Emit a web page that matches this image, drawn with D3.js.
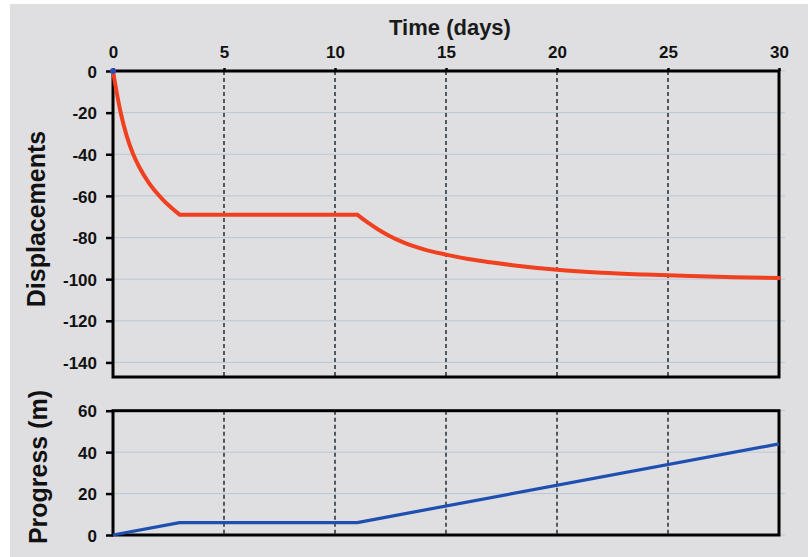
<!DOCTYPE html>
<html><head><meta charset="utf-8">
<script src="https://cdn.jsdelivr.net/npm/d3@7"></script>
<style>body{margin:0;background:#fff}svg{display:block}</style>
</head><body>
<svg id="c" width="808" height="557"></svg>
<script>
const xTicks = [0,5,10,15,20,25,30];
const dispTicks = [0,-20,-40,-60,-80,-100,-120,-140];
const progTicks = [0,20,40,60];
const dispDays = [0,0.17,0.35,0.62,0.91,1.2,1.6,2.2,3,11,11.5,12,12.5,13,13.5,14,15,16,17,18,19,20,22,24,26,28,30];
const dispVals = [0,-10.5,-20.2,-31.3,-40,-46.5,-53.5,-61.3,-69,-69,-73,-76.5,-79.5,-82,-84,-85.7,-88.2,-90.3,-91.9,-93.3,-94.5,-95.5,-96.9,-97.8,-98.5,-99.1,-99.5];
const breakDays = [3,11];
const progDays = [0,3,11,30];
const progVals = [0,6,6,44];

const svg = d3.select("#c");
const font = "'Liberation Sans', Arial, sans-serif";
svg.append("rect").attr("x",10).attr("y",4).attr("width",798).attr("height",553).attr("fill","#dfdfe1");

const x = d3.scaleLinear().domain([0,30]).range([113,779]);
const yD = d3.scaleLinear().domain([-147,0]).range([377,71]);
const yP = d3.scaleLinear().domain([0,60]).range([535,410.7]);

function panel(y, ticks){
  const [y0,y1] = y.range();
  svg.append("g").selectAll("line").data(ticks).join("line")
    .attr("x1",113).attr("x2",785).attr("y1",d=>y(d)).attr("y2",d=>y(d))
    .attr("stroke","#b9c7d6").attr("stroke-width",1);
  svg.append("g").selectAll("line").data(xTicks.slice(1,-1)).join("line")
    .attr("x1",d=>x(d)).attr("x2",d=>x(d)).attr("y1",y1).attr("y2",y0)
    .attr("stroke","#2d3640").attr("stroke-width",1.6).attr("stroke-dasharray","4,3");
  const ax = svg.append("g").attr("transform","translate(113,0)")
    .call(d3.axisLeft(y).tickValues(ticks).tickSize(7).tickPadding(9).tickFormat(d=>String(d)));
  ax.select(".domain").remove();
  ax.selectAll(".tick line").attr("stroke","#000").attr("stroke-width",2.5);
  ax.selectAll(".tick text").attr("font-family",font).attr("font-weight","bold")
    .attr("font-size",17).attr("fill","#111").attr("dy","0.36em");
  svg.append("rect").attr("x",113).attr("y",y1).attr("width",779-113).attr("height",y0-y1)
    .attr("fill","none").attr("stroke","#000").attr("stroke-width",3);
}
panel(yD, dispTicks);
panel(yP, progTicks);

const tx = svg.append("g").attr("transform","translate(0,71)")
  .call(d3.axisTop(x).tickValues(xTicks).tickSize(3).tickPadding(10).tickFormat(d=>String(d)));
tx.select(".domain").remove();
tx.selectAll(".tick line").attr("stroke","#000").attr("stroke-width",2.5);
tx.selectAll(".tick text").attr("font-family",font).attr("font-weight","bold")
  .attr("font-size",17).attr("fill","#111").attr("dy",0);

// displacement curve, smooth within segments separated by the break days
const pts = dispDays.map((d,i)=>[d,dispVals[i]]);
const segs = [
  pts.filter(p=>p[0]<=breakDays[0]),
  pts.filter(p=>p[0]>=breakDays[0] && p[0]<=breakDays[1]),
  pts.filter(p=>p[0]>=breakDays[1])
];
const lineD = d3.line().x(d=>x(d[0])).y(d=>yD(d[1])).curve(d3.curveMonotoneX);
svg.append("path").attr("d",segs.map(s=>lineD(s)).join(""))
  .attr("fill","none").attr("stroke","#f0401f").attr("stroke-width",4)
  .attr("stroke-linejoin","round").attr("stroke-linecap","round");
svg.append("circle").attr("cx",x(0)).attr("cy",yD(0)).attr("r",3).attr("fill","#2a50b8");

svg.append("path").datum(progDays.map((d,i)=>[d,progVals[i]]))
  .attr("d",d3.line().x(d=>x(d[0])).y(d=>yP(d[1])))
  .attr("fill","none").attr("stroke","#1f4fb0").attr("stroke-width",3.2)
  .attr("stroke-linejoin","round");

svg.append("text").attr("x",450).attr("y",35).attr("text-anchor","middle")
  .attr("font-family",font).attr("font-weight","bold").attr("font-size",22).attr("fill","#1a1a1a")
  .text("Time (days)");
svg.append("text").attr("transform","translate(45,219) rotate(-90)").attr("text-anchor","middle")
  .attr("font-family",font).attr("font-weight","bold").attr("font-size",25).attr("fill","#111")
  .text("Displacements");
svg.append("text").attr("transform","translate(47,467) rotate(-90)").attr("text-anchor","middle")
  .attr("font-family",font).attr("font-weight","bold").attr("font-size",25).attr("fill","#111")
  .text("Progress (m)");
</script>
</body></html>
